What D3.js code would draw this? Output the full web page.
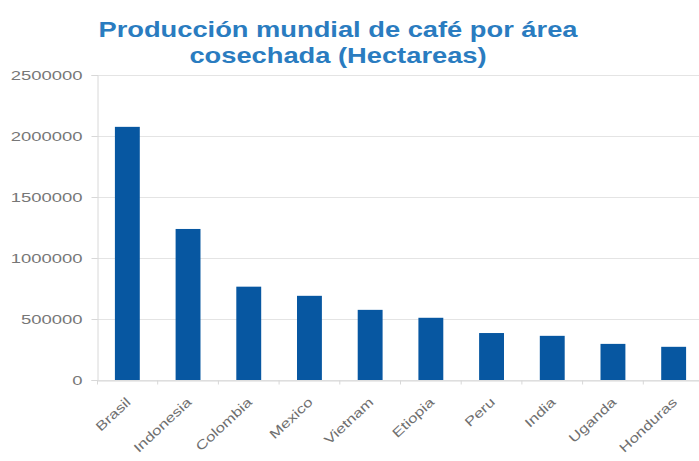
<!DOCTYPE html>
<html>
<head>
<meta charset="utf-8">
<script src="https://cdn.jsdelivr.net/npm/d3@7"></script>
<style>
  body { margin: 0; background: #fff; }
  svg { display: block; }
</style>
</head>
<body>
<div id="chart"></div>
<script>
// datos del grafico
var paises = ["Brasil", "Indonesia", "Colombia", "Mexico", "Vietnam", "Etiopia", "Peru", "India", "Uganda", "Honduras"];
var hectareas = [2075000, 1238000, 765000, 690000, 575000, 510000, 385000, 362000, 296000, 272000];
var yTicks = [0, 500000, 1000000, 1500000, 2000000, 2500000];
var titulo = ["Producción mundial de café por área", "cosechada (Hectareas)"];

var svgWidth = 699;
var svgHeight = 461;

var chartMargin = {
    top: 75,
    right: -5,
    bottom: 81,
    left: 97
};

var chartWidth = svgWidth - chartMargin.left - chartMargin.right;
var chartHeight = svgHeight - chartMargin.top - chartMargin.bottom;

// la imagen original esta estirada a lo ancho
function estirar(sel, f) {
    sel.each(function() {
        var w = this.getComputedTextLength();
        d3.select(this).attr("textLength", w * f).attr("lengthAdjust", "spacingAndGlyphs");
    });
}

var svg = d3.select("#chart")
            .append("svg")
            .attr("width", svgWidth)
            .attr("height", svgHeight);

svg.append("g")
   .selectAll("text")
   .data(titulo)
   .enter()
   .append("text")
   .attr("x", 338)
   .attr("y", function(d, i) { return 37 + i * 26; })
   .attr("text-anchor", "middle")
   .attr("font-family", "Liberation Sans, Arial, sans-serif")
   .attr("font-weight", "bold")
   .attr("font-size", 22)
   .attr("fill", "#2a7cc0")
   .text(function(d) { return d; })
   .call(estirar, 1.24);

var chartGroup = svg.append("g")
                    .attr("transform", `translate(${chartMargin.left}, ${chartMargin.top})`);

var yScale = d3.scaleLinear()
                .domain([0, 2500000])
                .range([chartHeight, 0]);

var xScale = d3.scaleBand()
                .domain(paises)
                .range([0, chartWidth])
                .paddingInner(0.59)
                .paddingOuter(0.295);

// lineas de la grilla
chartGroup.append("g")
    .selectAll("line")
    .data(yTicks)
    .enter()
    .append("line")
    .attr("x1", 0)
    .attr("x2", chartWidth)
    .attr("y1", function(d) { return Math.round(yScale(d)) + 0.5; })
    .attr("y2", function(d) { return Math.round(yScale(d)) + 0.5; })
    .attr("stroke", "#e4e4e4")
    .attr("stroke-width", 1);

var yAxis = d3.axisLeft(yScale)
              .tickValues(yTicks)
              .tickFormat(d3.format("d"))
              .tickSize(6)
              .tickPadding(9);

var gy = chartGroup.append("g")
            .attr("transform", "translate(0.5, 0)")
            .call(yAxis);
gy.select(".domain").attr("stroke", "#d8d8d8");
gy.selectAll(".tick line").attr("stroke", "#d8d8d8");
gy.selectAll("text")
  .attr("font-family", "Liberation Sans, Arial, sans-serif")
  .attr("font-size", 13)
  .attr("fill", "#777")
  .call(estirar, 1.42);

var xAxis = d3.axisBottom(xScale).tickSize(4).tickPadding(6);

var gx = chartGroup.append("g")
            .attr("transform", `translate(0, ${chartHeight + 0.5})`)
            .call(xAxis);
gx.select(".domain").attr("stroke", "#d8d8d8");
gx.selectAll(".tick line").attr("stroke", "#d8d8d8")
  .attr("transform", `translate(${xScale.step() / 2}, 0)`);
gx.selectAll("text")
  .attr("font-family", "Liberation Sans, Arial, sans-serif")
  .attr("font-size", 13)
  .attr("fill", "#6f6f6f")
  .attr("text-anchor", "end")
  .attr("x", 0)
  .attr("y", 0)
  .attr("dy", "0.7em")
  .attr("transform", "translate(-2, 16) rotate(-43)")
  .call(estirar, 1.3);

chartGroup.append("g")
    .selectAll("rect")
    .data(hectareas)
    .enter()
    .append("rect")
    .attr("x", function(d, i) { return xScale(paises[i]); })
    .attr("y", function(d) { return yScale(d); })
    .attr("width", xScale.bandwidth())
    .attr("height", function(d) { return chartHeight - yScale(d); })
    .attr("fill", "#0757a1");
</script>
</body>
</html>
